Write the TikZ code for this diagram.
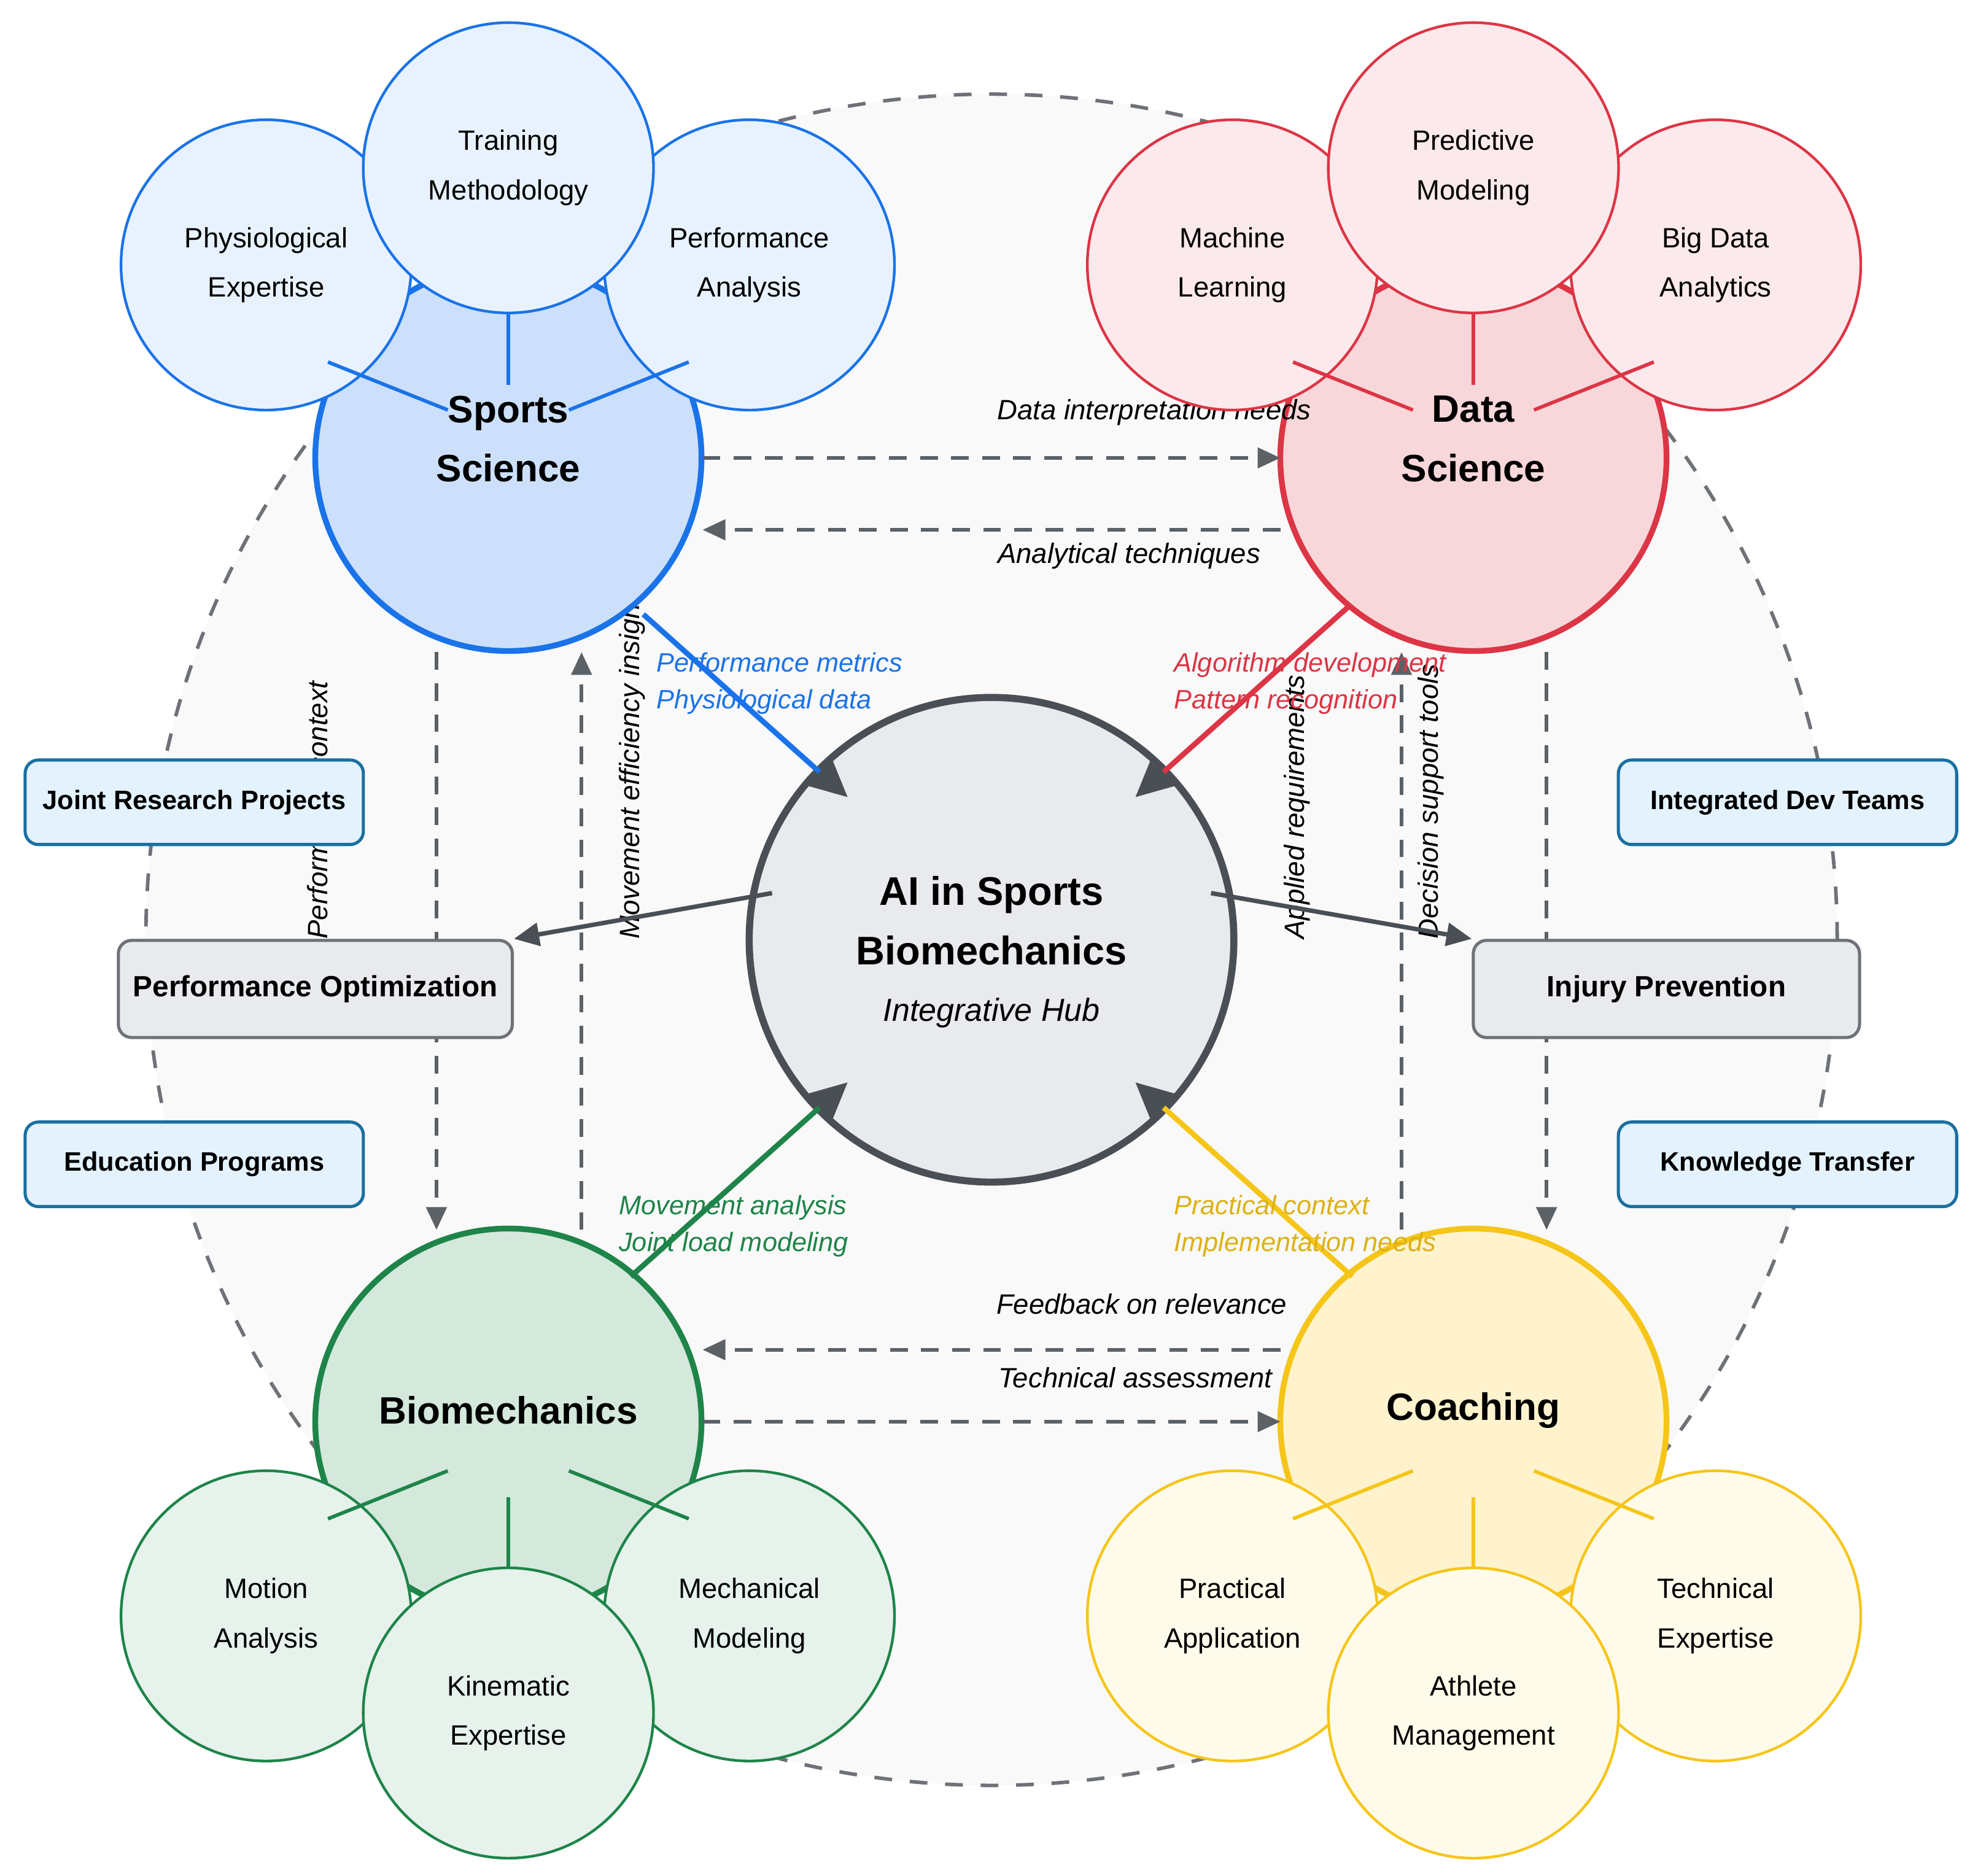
\documentclass[tikz,border=0pt]{standalone}
\usepackage{fontspec}
\setmainfont{Liberation Sans}
\usetikzlibrary{arrows.meta}
\definecolor{sblue}{HTML}{1A73E8}\definecolor{sbluef}{HTML}{CCE0FC}\definecolor{sbluel}{HTML}{E8F2FE}
\definecolor{dred}{HTML}{DC3545}\definecolor{dredf}{HTML}{F8D7DA}\definecolor{dredl}{HTML}{FBE9EB}
\definecolor{bgreen}{HTML}{1E8449}\definecolor{bgreenf}{HTML}{D4E8DC}\definecolor{bgreenl}{HTML}{E6F2EB}
\definecolor{cyel}{HTML}{F5C518}\definecolor{cyelf}{HTML}{FFF3CD}\definecolor{cyell}{HTML}{FFFBEA}
\definecolor{hubf}{HTML}{E8EAED}\definecolor{hubs}{HTML}{4A4F55}
\definecolor{boxb}{HTML}{E3F2FD}\definecolor{boxbs}{HTML}{1A6FA0}
\begin{document}
\begin{tikzpicture}[x=0.01cm,y=-0.01cm,
 main/.style={circle,minimum size=3.06cm,line width=1.3pt,inner sep=0pt,align=center,font={\fontsize{8.6}{13.4}\selectfont\bfseries}},
 sub/.style={circle,minimum size=2.3cm,line width=0.6pt,inner sep=0pt,align=center,font={\fontsize{6.3}{11.1}\selectfont}},
 spoke/.style={line width=0.8pt},
 hubl/.style={line width=1.2pt,-{Triangle[length=0.3cm,width=0.28cm,fill=hubs,color=hubs]}},
 dar/.style={dashed,line width=0.8pt,draw=hubs!90,dash pattern=on 4pt off 3pt,-{Triangle[length=0.18cm,width=0.16cm]}},
 lab/.style={font={\fontsize{6}{8.3}\selectfont\itshape},inner sep=0pt},
 obox/.style={draw=hubs!80,fill=hubf,rounded corners=3pt,line width=0.7pt,minimum width=3.06cm,minimum height=0.77cm,font={\fontsize{6.6}{8}\selectfont\bfseries}},
 bbox/.style={draw=boxbs,fill=boxb,rounded corners=3pt,line width=0.7pt,minimum width=2.68cm,minimum height=0.67cm,font={\fontsize{6}{8}\selectfont\bfseries}}]
\useasboundingbox (0,0) rectangle (1568,1487);
\node[circle,minimum size=13.4cm,draw=hubs!80,dashed,dash pattern=on 4pt off 4pt,line width=0.8pt,fill=gray!5] (big) at (786,745) {};
% vertical dashed
\coordinate (v1a) at (346,517);\coordinate (v1b) at (346,975);
\coordinate (v2a) at (461,975);\coordinate (v2b) at (461,517);
\coordinate (v3a) at (1226,517);\coordinate (v3b) at (1226,975);
\coordinate (v4a) at (1111,975);\coordinate (v4b) at (1111,517);
\draw[dar] (v1a)--(v1b);\draw[dar] (v2a)--(v2b);\draw[dar] (v3a)--(v3b);\draw[dar] (v4a)--(v4b);
\node[lab,rotate=90,anchor=north west,font={\fontsize{6.3}{8}\selectfont\itshape}] (l1) at (243,745) {Performance context};
\node[lab,rotate=90,anchor=north west,font={\fontsize{6.3}{8}\selectfont\itshape}] (l2) at (490,745) {Movement efficiency insights};
\node[lab,rotate=90,anchor=north west,font={\fontsize{6.3}{8}\selectfont\itshape}] (l3) at (1017,745) {Applied requirements};
\node[lab,rotate=90,anchor=north west,font={\fontsize{6.3}{8}\selectfont\itshape}] (l4) at (1123,745) {Decision support tools};
% main circles
\node[main,draw=sblue,fill=sbluef] (ss) at (403,363) {};
\node[main,draw=dred,fill=dredf] (ds) at (1168,363) {};
\node[main,draw=bgreen,fill=bgreenf] (bm) at (403,1127) {};
\node[main,draw=cyel,fill=cyelf] (co) at (1168,1127) {};
% horizontal dashed
\coordinate (h1a) at (557,363);\coordinate (h1b) at (1015,363);
\coordinate (h2a) at (1015,420);\coordinate (h2b) at (557,420);
\coordinate (h3a) at (1015,1070);\coordinate (h3b) at (557,1070);
\coordinate (h4a) at (557,1127);\coordinate (h4b) at (1015,1127);
\draw[dar] (h1a)--(h1b);\draw[dar] (h2a)--(h2b);\draw[dar] (h3a)--(h3b);\draw[dar] (h4a)--(h4b);
\node[lab,font={\fontsize{6.3}{8}\selectfont\itshape}] (t1) at (915,327) {Data interpretation needs};
\node[lab,font={\fontsize{6.3}{8}\selectfont\itshape}] (t2) at (895,441) {Analytical techniques};
\node[lab,font={\fontsize{6.3}{8}\selectfont\itshape}] (t3) at (905,1034) {Feedback on relevance};
\node[lab,font={\fontsize{6.3}{8}\selectfont\itshape}] (t4) at (900,1092) {Technical assessment};
% sub circles
\node[sub,draw=sblue,fill=sbluel] (s1) at (211,210) {Physiological\\Expertise};
\node[sub,draw=sblue,fill=sbluel] (s3) at (594,210) {Performance\\Analysis};
\node[sub,draw=sblue,fill=sbluel] (s2) at (403,133) {Training\\Methodology};
\node[sub,draw=dred,fill=dredl] (d1) at (977,210) {Machine\\Learning};
\node[sub,draw=dred,fill=dredl] (d3) at (1360,210) {Big Data\\Analytics};
\node[sub,draw=dred,fill=dredl] (d2) at (1168,133) {Predictive\\Modeling};
\node[sub,draw=bgreen,fill=bgreenl] (b1) at (211,1281) {Motion\\Analysis};
\node[sub,draw=bgreen,fill=bgreenl] (b3) at (594,1281) {Mechanical\\Modeling};
\node[sub,draw=bgreen,fill=bgreenl] (b2) at (403,1358) {Kinematic\\Expertise};
\node[sub,draw=cyel,fill=cyell] (c1) at (977,1281) {Practical\\Application};
\node[sub,draw=cyel,fill=cyell] (c3) at (1360,1281) {Technical\\Expertise};
\node[sub,draw=cyel,fill=cyell] (c2) at (1168,1358) {Athlete\\Management};
% spokes
\foreach \c/\col/\yy/\ya/\yb/\yc in {403/sblue/1/287/325/248, 1168/dred/1/287/325/248}{
 \draw[spoke,\col] (\c-143,\ya)--(\c-48,\yb); \draw[spoke,\col] (\c,\yc)--(\c,305); \draw[spoke,\col] (\c+143,\ya)--(\c+48,\yb);}
\foreach \c/\col in {403/bgreen,1168/cyel}{
 \draw[spoke,\col] (\c-143,1204)--(\c-48,1166); \draw[spoke,\col] (\c,1243)--(\c,1187); \draw[spoke,\col] (\c+143,1204)--(\c+48,1166);}
% main labels
\node[font={\fontsize{8.6}{13.4}\selectfont\bfseries},align=center] (ssl) at (403,348) {Sports\\Science};
\node[font={\fontsize{8.6}{13.4}\selectfont\bfseries},align=center] (dsl) at (1168,348) {Data\\Science};
\node[font={\fontsize{8.6}{13.4}\selectfont\bfseries}] (bml) at (403,1118) {Biomechanics};
\node[font={\fontsize{8.6}{13.4}\selectfont\bfseries}] (col) at (1168,1118) {Coaching};
% hub
\node[circle,minimum size=3.84cm,draw=hubs,fill=hubf,line width=1.6pt] (hub) at (786,745) {};
\node[font={\fontsize{9}{13.4}\selectfont\bfseries},align=center] (hubt) at (786,730) {AI in Sports\\Biomechanics};
\node[font={\fontsize{7.2}{9}\selectfont\itshape}] (hubs2) at (786,803) {Integrative Hub};
\coordinate (a1) at (510,487);\coordinate (a1e) at (672,632);
\coordinate (a2) at (1070,480);\coordinate (a2e) at (900,632);
\coordinate (a3) at (500,1012);\coordinate (a3e) at (672,858);
\coordinate (a4) at (1072,1012);\coordinate (a4e) at (900,858);
\draw[hubl,sblue] (a1)--(a1e);\draw[hubl,dred] (a2)--(a2e);
\draw[hubl,bgreen] (a3)--(a3e);\draw[hubl,cyel] (a4)--(a4e);
\node[lab,anchor=west,align=left,text=sblue] (p1) at (520,542) {Performance metrics\\Physiological data};
\node[lab,anchor=west,align=left,text=dred] (p2) at (930,542) {Algorithm development\\Pattern recognition};
\node[lab,anchor=west,align=left,text=bgreen] (p3) at (490,972) {Movement analysis\\Joint load modeling};
\node[lab,anchor=west,align=left,text=cyel!90!black] (p4) at (930,972) {Practical context\\Implementation needs};
% outcome boxes
\node[obox] (po) at (250,784) {Performance Optimization};
\node[obox] (ip) at (1321,784) {Injury Prevention};
\coordinate (o1) at (612,708);\coordinate (o2) at (960,708);
\draw[line width=1pt,hubs,-{Triangle[length=0.2cm,width=0.18cm]}] (o1)--(po.north east);
\draw[line width=1pt,hubs,-{Triangle[length=0.2cm,width=0.18cm]}] (o2)--(ip.north west);
\node[bbox] (jr) at (154,636) {Joint Research Projects};
\node[bbox] (ep) at (154,923) {Education Programs};
\node[bbox] (it) at (1417,636) {Integrated Dev Teams};
\node[bbox] (kt) at (1417,923) {Knowledge Transfer};
\end{tikzpicture}
\end{document}
